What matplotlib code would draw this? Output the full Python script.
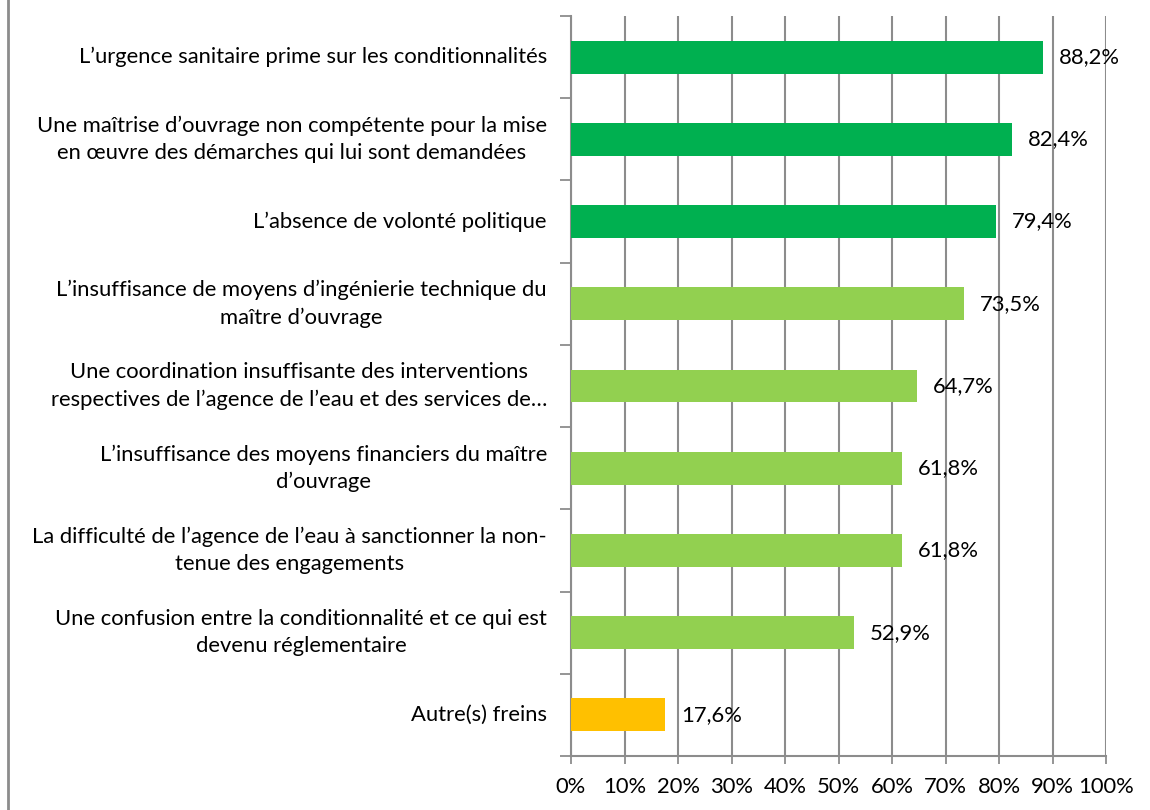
import matplotlib
matplotlib.use("Agg")
import matplotlib.pyplot as plt
from matplotlib.lines import Line2D

categories = [
    "L’urgence sanitaire prime sur les conditionnalités",
    "Une maîtrise d’ouvrage non compétente pour la mise\nen œuvre des démarches qui lui sont demandées",
    "L’absence de volonté politique",
    "L’insuffisance de moyens d’ingénierie technique du\nmaître d’ouvrage",
    "Une coordination insuffisante des interventions\nrespectives de l’agence de l’eau et des services de…",
    "L’insuffisance des moyens financiers du maître\nd’ouvrage",
    "La difficulté de l’agence de l’eau à sanctionner la non-\ntenue des engagements",
    "Une confusion entre la conditionnalité et ce qui est\ndevenu réglementaire",
    "Autre(s) freins",
]
values = [88.2, 82.4, 79.4, 73.5, 64.7, 61.8, 61.8, 52.9, 17.6]
value_labels = ["88,2%", "82,4%", "79,4%", "73,5%", "64,7%", "61,8%", "61,8%", "52,9%", "17,6%"]
colors = ["#00B050", "#00B050", "#00B050", "#92D050", "#92D050", "#92D050", "#92D050", "#92D050", "#FFC000"]
xticks = [0, 10, 20, 30, 40, 50, 60, 70, 80, 90, 100]
xtick_labels = [f"{t}%" for t in xticks]

plt.rcParams['font.family'] = ['Lato', 'DejaVu Sans']
FS = 15.8

fig = plt.figure(figsize=(11.5, 8.1), dpi=100)
ax = fig.add_axes([571/1150, 1-756/810, (1106-571)/1150, (756-16)/810])

n = len(categories)
ypos = list(range(n))
ax.barh(ypos, values, height=0.40, color=colors, zorder=3)
ax.set_ylim(n - 0.5, -0.5)
ax.set_xlim(0, 100)

grid_c = "#8C8C8C"
ax.set_xticks(xticks)
ax.set_xticklabels(xtick_labels, fontsize=FS, color="#000000")
ax.xaxis.grid(True, color=grid_c, linewidth=1.5, zorder=0)
ax.tick_params(axis='x', length=6, width=1.3, color=grid_c, pad=9)

# category labels
ax.set_yticks([])
for i, lab in enumerate(categories):
    ax.text(-0.045, i, lab, transform=ax.get_yaxis_transform(), ha='right', va='center',
            multialignment='center', fontsize=FS, linespacing=1.42)
# category boundary ticks
ax.set_yticks([i - 0.5 for i in range(n + 1)], minor=True)
ax.tick_params(axis='y', which='minor', length=8, width=1.3, color=grid_c, left=True)
ax.tick_params(axis='y', which='major', length=0)

for i, (v, l) in enumerate(zip(values, value_labels)):
    ax.text(v + 3.0, i, l, ha='left', va='center', fontsize=FS, zorder=4)

for s in ['top', 'right']:
    ax.spines[s].set_visible(False)
for s in ['left', 'bottom']:
    ax.spines[s].set_color(grid_c)
    ax.spines[s].set_linewidth(1.5)

# outer border line on the left
fig.add_artist(Line2D([8/1150, 8/1150], [0, 1], transform=fig.transFigure, color="#8C8C8C", linewidth=2))

fig.savefig("out.png", dpi=100)
